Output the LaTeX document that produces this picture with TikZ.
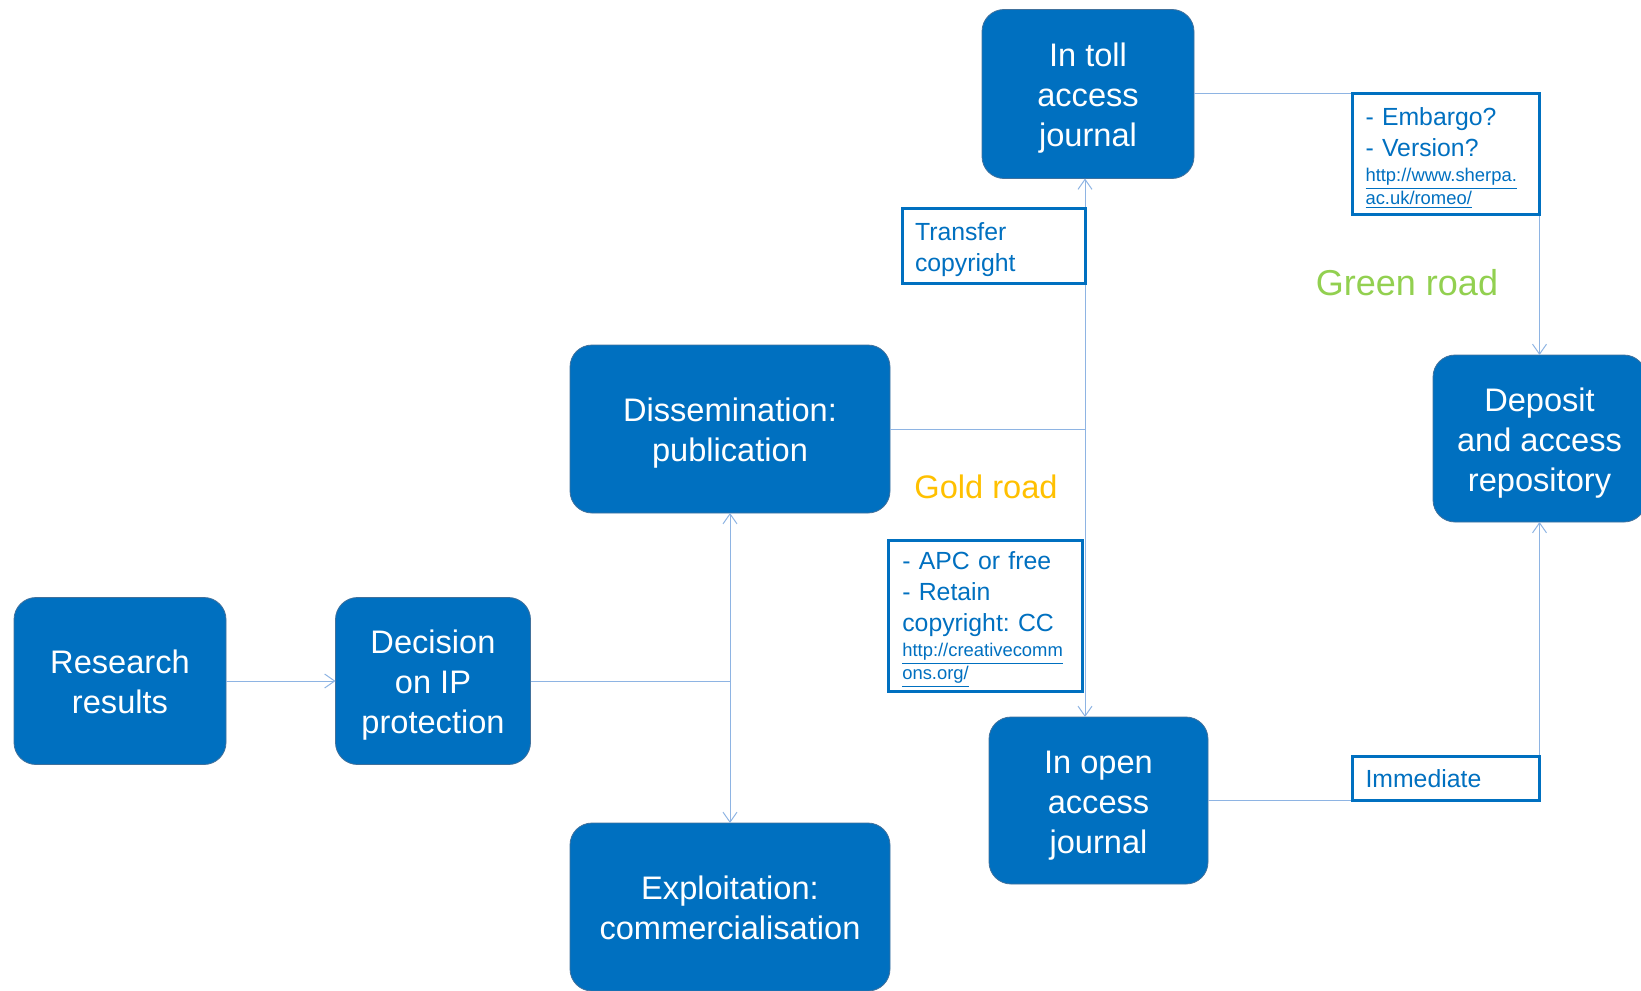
\documentclass[tikz,border=0pt]{standalone}
\usepackage{fontspec}
\setmainfont{Liberation Sans}
\usetikzlibrary{positioning, arrows.meta}
\definecolor{boxblue}{HTML}{0070C0}
\definecolor{edgeblue}{HTML}{41719C}
\definecolor{linkblue}{HTML}{8EB4E3}
\definecolor{goldroad}{HTML}{FFC000}
\definecolor{greenroad}{HTML}{92D050}
\newcommand{\urlfont}{\fontsize{9.2}{11.5}\selectfont}
\newcommand{\topline}{\rule{0pt}{16pt}}
\frenchspacing

\begin{document}
\begin{tikzpicture}
    [x=0.5pt, y=-0.5pt, outer sep=0pt,
     step_box/.style={rectangle, rounded corners=11pt, draw=edgeblue, thin,
       fill=boxblue, text=white, align=center, inner sep=0pt,
       font=\fontsize{16.3}{20}\selectfont,
       execute at end node={\rule[-3.5pt]{0pt}{0pt}}},
     note_box/.style={rectangle, draw=boxblue, line width=1.5pt, fill=white,
       text=boxblue, align=left, inner sep=0pt,
       font=\fontsize{12.4}{15.5}\selectfont},
     note_top/.style={execute at begin node={\rule{0pt}{12.9pt}}},
     link/.style={draw=linkblue, line width=0.5pt},
     tip/.style={-{Straight Barb[length=5pt, width=7pt]}}]
    \useasboundingbox (0,0) rectangle (1641,990);
    \node (research_results) [step_box, minimum width=106pt, minimum height=83.5pt]
      at (120,681) {\topline Research\\results};
    \node (ip_decision) [step_box, minimum width=97.5pt, minimum height=83.5pt]
      at (433,681) {\topline Decision\\on IP\\protection};
    \node (dissemination) [step_box, minimum width=160pt, minimum height=84pt]
      at (730,429) {\topline Dissemination:\\publication};
    \node (exploitation) [step_box, minimum width=160pt, minimum height=84pt]
      at (730,907) {\topline Exploitation:\\commercialisation};
    \node (toll_journal) [step_box, minimum width=106pt, minimum height=84.5pt]
      at (1088,94) {\topline In toll\\access\\journal};
    \node (oa_journal) [step_box, minimum width=109.5pt, minimum height=83.5pt]
      at (1098.5,800.5) {\topline In open\\access\\journal};
    \node (repository) [step_box, minimum width=106.5pt, minimum height=83.5pt]
      at (1539.5,438.5) {\topline Deposit\\and access\\repository};
    \coordinate (ip_split) at (ip_decision -| dissemination);
    \coordinate (road_split) at (1085,429);
    \draw [link, tip] (research_results) -- (ip_decision);
    \draw [link] (ip_decision) -- (ip_split);
    \draw [link, tip] (ip_split) -- (dissemination);
    \draw [link, tip] (ip_split) -- (exploitation);
    \draw [link] (dissemination) -- (road_split);
    \draw [link, tip] (road_split) -- (road_split |- toll_journal.south);
    \draw [link, tip] (road_split) -- (road_split |- oa_journal.north);
    \draw [link, tip] (toll_journal) -| (repository);
    \draw [link, tip] (oa_journal) -| (repository);
    \node (embargo_note) [note_box, note_top, anchor=north east, minimum width=93.5pt,
      minimum height=60pt, text width=80.5pt] at (toll_journal -| repository)
      {- Embargo?\\- Version?\par
       {\urlfont\vspace{1pt}\underline{http://www.sherpa.}\\\underline{ac.uk/romeo/}\par}};
    \node (transfer_note) [note_box, note_top, anchor=north east, minimum width=91.5pt,
      minimum height=37.5pt, text width=78.5pt] at (1085,208) {Transfer\\copyright};
    \node (apc_note) [note_box, note_top, anchor=north east, minimum width=96.7pt,
      minimum height=75.5pt, text width=83pt] at (1082,540)
      {- APC or free\\- Retain\\copyright: CC\par
       {\urlfont\vspace{1pt}\underline{http://creativecomm}\\\underline{ons.org/}\par}};
    \node (immediate_note) [note_box, anchor=south east, minimum width=93.5pt,
      minimum height=22pt, text width=80.5pt] at (oa_journal -| repository) {Immediate};
    \node (gold_road) [text=goldroad, font=\fontsize{16.3}{20}\selectfont]
      at (986,487) {Gold road};
    \node (green_road) [text=greenroad, font=\fontsize{18}{22}\selectfont]
      at (1407,283) {Green road};
\end{tikzpicture}
\end{document}
